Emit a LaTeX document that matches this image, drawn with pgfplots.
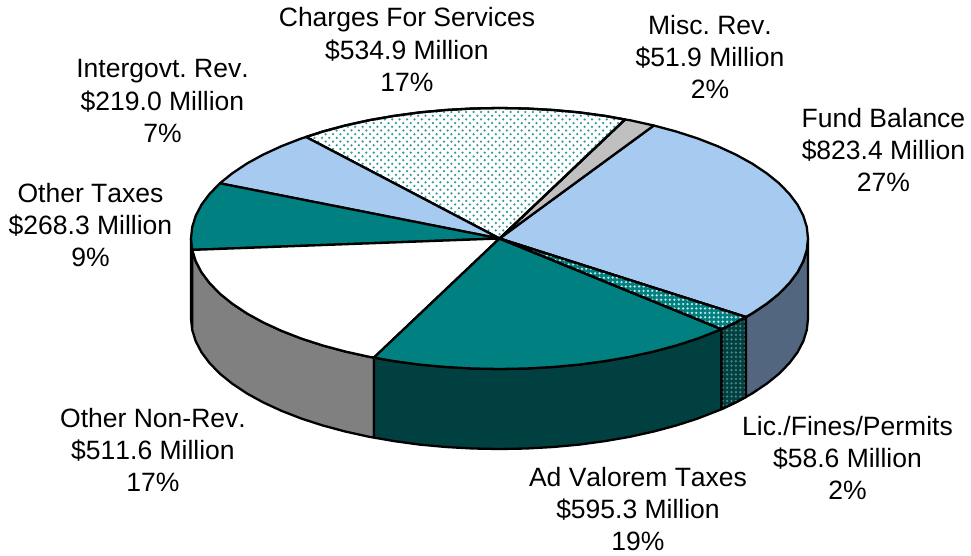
\documentclass[border=0pt]{standalone}
\usepackage{pgfplots}
\pgfplotsset{compat=1.18}
\usepackage{fontspec}
\setmainfont[Kerning=Off]{Liberation Sans}
\usetikzlibrary{patterns}
\definecolor{tealTop}{HTML}{008080}
\definecolor{tealWall}{HTML}{004040}
\definecolor{wallDot}{HTML}{4F8583}
\definecolor{lightBlue}{HTML}{A6CAF0}
\definecolor{slateWall}{HTML}{536680}
\definecolor{midGray}{HTML}{808080}
\definecolor{lightGray}{HTML}{C0C0C0}
\pgfdeclarepatternformonly{sparsedots}{\pgfqpoint{-1.5bp}{-1.5bp}}{\pgfqpoint{5.9bp}{5.9bp}}{\pgfqpoint{7.4bp}{7.4bp}}{
  \pgfpathcircle{\pgfqpoint{0bp}{0bp}}{1.25bp}
  \pgfpathcircle{\pgfqpoint{3.7bp}{3.7bp}}{1.25bp}
  \pgfusepath{fill}}
\pgfdeclarepatternformonly{densedots}{\pgfqpoint{-1bp}{-1bp}}{\pgfqpoint{3.4bp}{3.4bp}}{\pgfqpoint{4.4bp}{4.4bp}}{
  \pgfpathcircle{\pgfqpoint{1.1bp}{1.1bp}}{1.25bp}
  \pgfusepath{fill}}
\tikzset{lab/.style={align=center,inner sep=0pt,font=\frenchspacing\fontsize{26.5bp}{32.4bp}\selectfont}}
\begin{document}
\begin{tikzpicture}
\begin{axis}[scale only axis, width=971bp, height=556bp, xmin=0, xmax=971, ymin=0, ymax=556,
  y dir=reverse, hide axis, clip=false,
  every axis plot/.append style={draw=black, line width=2.3bp, line join=round}]
\path (axis cs:0,0) rectangle (axis cs:971,556);
% walls
\addplot[fill=tealWall] coordinates {(191,238.5)(192.2,249.9)(192.2,329.9)(191,318.5)} --cycle;
\addplot[fill=midGray] coordinates {(192.2,249.9)(195.7,261.2)(201.5,272.3)(209.6,283.1)(219.9,293.7)(232.3,303.7)(246.8,313.4)(263.2,322.4)(281.4,330.8)(301.2,338.5)(322.5,345.4)(345.2,351.5)(369.1,356.8)(373.9,357.6)
 (373.9,437.6)(369.1,436.8)(345.2,431.5)(322.5,425.4)(301.2,418.5)(281.4,410.8)(263.2,402.4)(246.8,393.4)(232.3,383.7)(219.9,373.7)(209.6,363.1)(201.5,352.3)(195.7,341.2)(192.2,329.9)} --cycle;
\addplot[fill=tealWall] coordinates {(373.9,357.6)(394,361.1)(419.7,364.6)(445.9,367)(472.6,368.5)(499.5,369)(526.4,368.5)(553.1,367)(579.3,364.6)(605,361.1)(629.9,356.8)(653.8,351.5)(676.5,345.4)(697.8,338.5)(717.6,330.8)(721.4,329.2)
 (721.4,409.2)(717.6,410.8)(697.8,418.5)(676.5,425.4)(653.8,431.5)(629.9,436.8)(605,441.1)(579.3,444.6)(553.1,447)(526.4,448.5)(499.5,449)(472.6,448.5)(445.9,447)(419.7,444.6)(394,441.1)(373.9,437.6)} --cycle;
\addplot[fill=tealWall] coordinates {(721.4,329.2)(735.8,322.4)(745.9,317)(745.9,397)(735.8,402.4)(721.4,409.2)} --cycle;
\addplot[draw=none, pattern=densedots, pattern color=wallDot] coordinates {(721.4,329.2)(735.8,322.4)(745.9,317)(745.9,397)(735.8,402.4)(721.4,409.2)} --cycle;
\addplot[fill=none] coordinates {(721.4,329.2)(735.8,322.4)(745.9,317)(745.9,397)(735.8,402.4)(721.4,409.2)} --cycle;
\addplot[fill=slateWall] coordinates {(745.9,317)(752.2,313.4)(766.7,303.7)(779.1,293.7)(789.4,283.1)(797.5,272.3)(803.3,261.2)(806.8,249.9)(808,238.5)
 (808,318.5)(806.8,329.9)(803.3,341.2)(797.5,352.3)(789.4,363.1)(779.1,373.7)(766.7,383.7)(752.2,393.4)(745.9,397)} --cycle;
% top face
\addplot[fill=lightBlue] coordinates {(499.5,238.5)(653.8,125.5)(676.5,131.6)(697.8,138.5)(717.6,146.2)(735.8,154.6)(752.2,163.6)(766.7,173.3)(779.1,183.3)(789.4,193.9)(797.5,204.7)(803.3,215.8)(806.8,227.1)(808,238.5)(806.8,249.9)(803.3,261.2)(797.5,272.3)(789.4,283.1)(779.1,293.7)(766.7,303.7)(752.2,313.4)(745.9,317)} --cycle;
\addplot[fill=lightGray] coordinates {(499.5,238.5)(625,119.5)(629.9,120.2)(653.8,125.5)} --cycle;
\addplot[fill=white] coordinates {(499.5,238.5)(306,137)(322.5,131.6)(345.2,125.5)(369.1,120.2)(394,115.9)(419.7,112.4)(445.9,110)(472.6,108.5)(499.5,108)(526.4,108.5)(553.1,110)(579.3,112.4)(605,115.9)(625,119.5)} --cycle;
\addplot[draw=none, pattern=sparsedots, pattern color=tealTop!80!white] coordinates {(499.5,238.5)(306,137)(322.5,131.6)(345.2,125.5)(369.1,120.2)(394,115.9)(419.7,112.4)(445.9,110)(472.6,108.5)(499.5,108)(526.4,108.5)(553.1,110)(579.3,112.4)(605,115.9)(625,119.5)} --cycle;
\addplot[fill=none] coordinates {(499.5,238.5)(306,137)(322.5,131.6)(345.2,125.5)(369.1,120.2)(394,115.9)(419.7,112.4)(445.9,110)(472.6,108.5)(499.5,108)(526.4,108.5)(553.1,110)(579.3,112.4)(605,115.9)(625,119.5)} --cycle;
\addplot[fill=lightBlue] coordinates {(499.5,238.5)(219.9,183.3)(232.3,173.3)(246.8,163.6)(263.2,154.6)(281.4,146.2)(301.2,138.5)(306,137)} --cycle;
\addplot[fill=tealTop] coordinates {(499.5,238.5)(192.2,249.9)(191,238.5)(192.2,227.1)(195.7,215.8)(201.5,204.7)(209.6,193.9)(219.9,183.3)} --cycle;
\addplot[fill=white] coordinates {(499.5,238.5)(373.9,357.6)(369.1,356.8)(345.2,351.5)(322.5,345.4)(301.2,338.5)(281.4,330.8)(263.2,322.4)(246.8,313.4)(232.3,303.7)(219.9,293.7)(209.6,283.1)(201.5,272.3)(195.7,261.2)(192.2,249.9)} --cycle;
\addplot[fill=tealTop] coordinates {(499.5,238.5)(721.4,329.2)(717.6,330.8)(697.8,338.5)(676.5,345.4)(653.8,351.5)(629.9,356.8)(605,361.1)(579.3,364.6)(553.1,367)(526.4,368.5)(499.5,369)(472.6,368.5)(445.9,367)(419.7,364.6)(394,361.1)(373.9,357.6)} --cycle;
\addplot[fill=tealTop] coordinates {(499.5,238.5)(745.9,317)(735.8,322.4)(721.4,329.2)} --cycle;
\addplot[draw=none, pattern=densedots, pattern color=white!80!tealTop] coordinates {(499.5,238.5)(745.9,317)(735.8,322.4)(721.4,329.2)} --cycle;
\addplot[fill=none] coordinates {(499.5,238.5)(745.9,317)(735.8,322.4)(721.4,329.2)} --cycle;
% labels
\node[lab] at (axis cs:407,49.5) {Charges For Services\\\$534.9 Million\\17\%};
\node[lab] at (axis cs:710,57) {Misc. Rev.\\\$51.9 Million\\2\%};
\node[lab] at (axis cs:883.5,150) {Fund Balance\\\$823.4 Million\\27\%};
\node[lab] at (axis cs:162.5,101) {Intergovt. Rev.\\\$219.0 Million\\7\%};
\node[lab] at (axis cs:90.5,225) {Other Taxes\\\$268.3 Million\\9\%};
\node[lab] at (axis cs:153,450) {Other Non-Rev.\\\$511.6 Million\\17\%};
\node[lab] at (axis cs:847.5,458) {Lic./Fines/Permits\\\$58.6 Million\\2\%};
\node[lab] at (axis cs:638,509) {Ad Valorem Taxes\\\$595.3 Million\\19\%};
\end{axis}
\end{tikzpicture}
\end{document}
